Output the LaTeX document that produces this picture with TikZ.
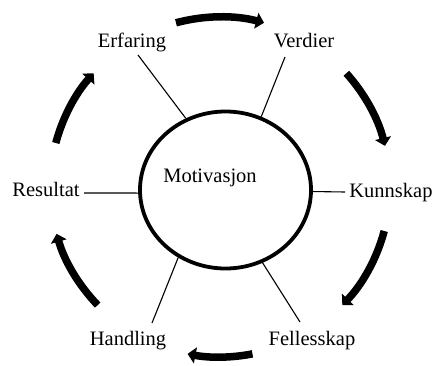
\documentclass[tikz,border=0pt]{standalone}
\usepackage{fontspec}
\setmainfont{Liberation Serif}
\usetikzlibrary{shapes.geometric,arrows.meta,calc}
\begin{document}
\begin{tikzpicture}[x=1bp,y=1bp,
  lbl/.style={anchor=base,inner sep=0pt,font=\fontsize{20.5bp}{24bp}\selectfont},
  conn/.style={line width=1.1bp},
  bigarrow/.style={line width=7.5bp,-{Triangle[width=16bp,length=8bp]}},
  hub/.style={ellipse,draw,line width=3.8bp,minimum width=171bp,minimum height=157bp,inner sep=0pt}]
\useasboundingbox (0,0) rectangle (434,365);
\node[hub] (mot) at (225.5,175) {};
\node[lbl] (motl) at (210,183) {Motivasjon};
\node[lbl] (erf) at (132,318) {Erfaring};
\node[lbl] (ver) at (304,318) {Verdier};
\node[lbl] (kun) at (391,168) {Kunnskap};
\node[lbl] (res) at (46,168.3) {Resultat};
\node[lbl] (fel) at (312,20) {Fellesskap};
\node[lbl] (han) at (128,20) {Handling};
\coordinate (erfe) at (138,310);
\coordinate (vere) at (285,308);
\coordinate (kune) at (345,173);
\coordinate (rese) at (84,172);
\coordinate (fele) at (300,43);
\coordinate (hane) at (152,42);
\draw[conn] (erfe) -- (mot.119.2);
\draw[conn] (vere) -- (mot.64.9);
\draw[conn] (kune) -- (mot.-1.3);
\draw[conn] (rese) -- (mot.182);
\draw[conn] (hane) -- (mot.235.1);
\draw[conn] (fele) -- (mot.297.6);
\coordinate (c) at (220,178);
\draw[bigarrow] ($(c)+(105:170)$) arc[start angle=105,end angle=75,radius=170];
\draw[bigarrow] ($(c)+(42:170)$) arc[start angle=42,end angle=14,radius=170];
\draw[bigarrow] ($(c)+(-15:170)$) arc[start angle=-15,end angle=-44,radius=170];
\draw[bigarrow] ($(c)+(-79:170)$) arc[start angle=-79,end angle=-101,radius=170];
\draw[bigarrow] ($(c)+(-136:170)$) arc[start angle=-136,end angle=-164,radius=170];
\draw[bigarrow] ($(c)+(165:170)$) arc[start angle=165,end angle=138,radius=170];
\end{tikzpicture}
\end{document}
